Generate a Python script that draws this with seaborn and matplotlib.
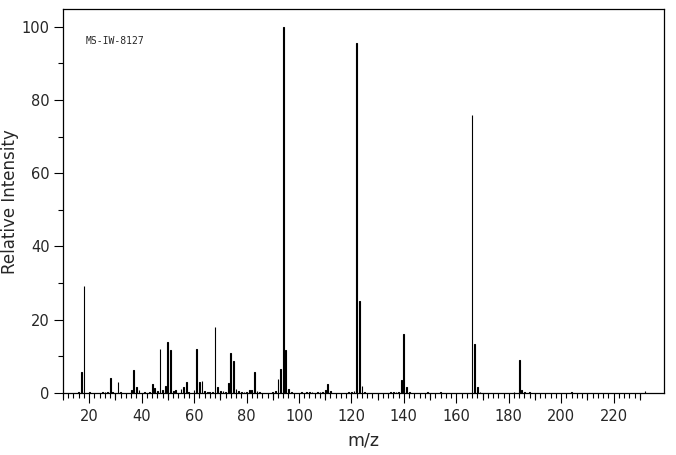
import numpy as np
import pandas as pd
import seaborn as sns
import matplotlib
matplotlib.use("Agg")
import matplotlib.pyplot as plt

# peak list (m/z, relative intensity)
mz = [16, 17, 18, 20, 25, 26, 27, 28, 29, 31, 32, 36, 37, 38, 39, 41, 43, 44, 45, 46,
      47, 48, 49, 50, 51, 52, 53, 55, 56, 57, 58, 60, 61, 62, 63, 64, 65, 66, 67, 68,
      69, 70, 71, 72, 73, 74, 75, 76, 77, 78, 79, 80, 81, 82, 83, 84, 85, 90, 91, 92,
      93, 94, 95, 96, 97, 101, 103, 104, 105, 107, 108, 109, 110, 111, 112, 119, 120, 121, 122, 123,
      124, 125, 135, 136, 137, 138, 139, 140, 141, 142, 149, 154, 166, 167, 168, 169, 182, 184, 185, 186,
      188, 204, 232]
intensity = [0.4, 5.8, 29.1, 0.3, 0.3, 0.4, 0.4, 4.2, 0.3, 3.1, 0.3, 0.8, 6.4, 1.6, 0.8, 0.3, 0.4, 2.5, 1.4, 0.5,
             12.1, 0.8, 2.0, 13.8, 11.6, 0.6, 0.9, 1.1, 1.6, 3.1, 0.4, 0.9, 12.1, 3.1, 3.4, 0.5, 0.3, 0.3, 0.2, 18.0,
             1.7, 0.5, 0.5, 0.4, 2.8, 11.0, 8.8, 1.2, 0.5, 0.3, 0.3, 0.3, 0.8, 0.8, 5.7, 0.5, 0.3, 0.3, 0.5, 3.8,
             6.6, 100.0, 11.8, 1.1, 0.4, 0.3, 0.3, 0.3, 0.3, 0.3, 0.3, 0.3, 0.9, 2.5, 0.5, 0.3, 0.3, 0.6, 95.6, 25.2,
             2.0, 0.3, 0.3, 0.3, 0.3, 0.3, 3.6, 16.2, 1.5, 0.4, 0.3, 0.3, 76.0, 13.5, 1.5, 0.4, 0.4, 9.1, 0.9, 0.3,
             0.3, 0.3, 0.6]

x_major = list(range(20, 221, 20))
x_mid = list(range(10, 231, 20))
x_minor = list(range(10, 231, 2))
y_major = list(range(0, 101, 20))
y_minor = list(range(10, 91, 20))
sample_id = "MS-IW-8127"

df = pd.DataFrame({"mz": mz, "intensity": intensity})

sns.set_theme(style="ticks")
plt.rcParams["font.family"] = ["DejaVu Sans"]

fig = plt.figure(figsize=(6.76, 4.55), dpi=100)
ax = fig.add_axes([0.0932, 0.1363, 0.8890, 0.8433])

sns.barplot(data=df, x="mz", y="intensity", native_scale=True, width=0.3,
            color="black", edgecolor="black", linewidth=0.8, errorbar=None,
            saturation=1, ax=ax)

ax.set_xlim(10, 239.2)
ax.set_ylim(0, 104.75)

for s in ax.spines.values():
    s.set_visible(True)
    s.set_linewidth(0.9)
    s.set_color("black")

ax.set_xticks(x_major)
ax.set_xticklabels([str(v) for v in x_major])
ax.set_xticks(x_minor, minor=True)
ax.set_yticks(y_major)
ax.set_yticklabels([str(v) for v in y_major])
ax.set_yticks(y_minor, minor=True)
ax.tick_params(axis="x", which="major", length=7.2, width=0.8, direction="out",
               labelsize=10.5, pad=4, color="black")
ax.tick_params(axis="x", which="minor", length=3.6, width=0.8, direction="out", color="black")
ax.tick_params(axis="y", which="major", length=6.5, width=0.8, direction="out",
               labelsize=10.5, pad=3, color="black")
ax.tick_params(axis="y", which="minor", length=3.6, width=0.8, direction="out", color="black")

# medium ticks every 10 units
sec = ax.secondary_xaxis("bottom")
sec.set_xticks(x_mid)
sec.set_xticklabels([])
sec.tick_params(axis="x", length=5.0, width=0.8, direction="out", color="black")
sec.spines["bottom"].set_visible(False)

ax.set_xlabel("m/z", fontsize=12.5, labelpad=6)
ax.set_ylabel("Relative Intensity", fontsize=12)
ax.yaxis.set_label_coords(-0.073, 0.5)

ax.text(0.038, 0.917, sample_id, transform=ax.transAxes, fontsize=7,
        family="DejaVu Sans Mono", va="center", ha="left")

fig.savefig("out.png", dpi=100, facecolor="white")
